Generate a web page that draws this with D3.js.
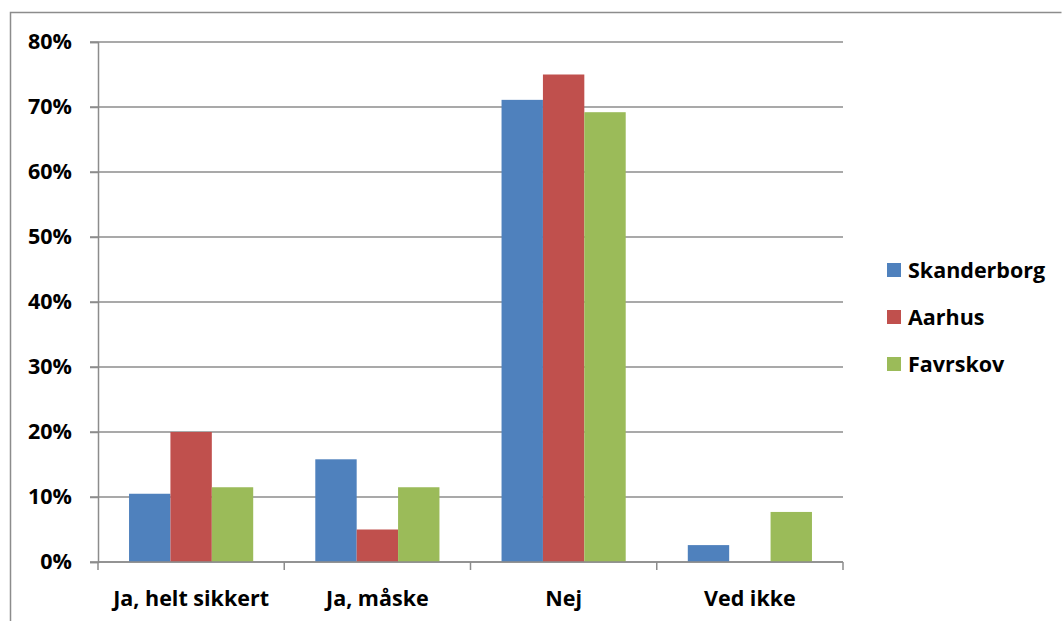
<!DOCTYPE html>
<html>
<head>
<meta charset="utf-8">
<script src="https://cdn.jsdelivr.net/npm/d3@7"></script>
<style>
  body { margin: 0; background: #fff; }
  svg { display: block; font-family: "Open Sans", sans-serif; font-weight: bold; }
</style>
</head>
<body>
<svg width="1062" height="621"></svg>
<script>
var categories = ["Ja, helt sikkert", "Ja, måske", "Nej", "Ved ikke"];
var seriesNames = ["Skanderborg", "Aarhus", "Favrskov"];
var skanderborg = [10.5, 15.8, 71.1, 2.6];
var aarhus = [20, 5, 75, 0];
var favrskov = [11.5, 11.5, 69.2, 7.7];
var yTicks = [0, 10, 20, 30, 40, 50, 60, 70, 80];
var colors = ["#4f81bd", "#c0504d", "#9bbb59"];

var seriesValues = [skanderborg, aarhus, favrskov];

var svg = d3.select("svg"),
width = +svg.attr("width"),
height = +svg.attr("height");

var plotLeft = 98, plotRight = 843, plotTop = 42, plotBottom = 562;
var gridColor = "#8c8c8c";
var fontSize = 21.5;

// outer frame
svg.append("path")
  .attr("d", "M10.5," + height + "V12.5H1061.5")
  .attr("fill", "none")
  .attr("stroke", gridColor)
  .attr("stroke-width", 1.5);

var y = d3.scaleLinear().domain([0, 80]).range([plotBottom, plotTop]);

var x0 = d3.scaleBand()
  .domain(categories)
  .range([plotLeft, plotRight])
  .paddingInner(1 / 3)
  .paddingOuter(1 / 6);

var x1 = d3.scaleBand()
  .domain(seriesNames)
  .range([0, x0.bandwidth()]);

// gridlines
svg.append("g").selectAll("line")
  .data(yTicks)
  .enter().append("line")
  .attr("x1", plotLeft - 8)
  .attr("x2", plotRight)
  .attr("y1", function(d) { return y(d); })
  .attr("y2", function(d) { return y(d); })
  .attr("stroke", gridColor)
  .attr("stroke-width", 1.5);

// y axis
var yAxis = svg.append("g")
  .attr("transform", "translate(" + plotLeft + ",0)")
  .call(d3.axisLeft(y).tickValues(yTicks).tickSize(8).tickPadding(18)
    .tickFormat(function(d) { return d + "%"; }));
yAxis.select(".domain").attr("stroke", gridColor).attr("stroke-width", 1.5);
yAxis.selectAll(".tick line").attr("stroke", gridColor).attr("stroke-width", 1.5);
yAxis.selectAll("text")
  .attr("font-size", fontSize)
  .attr("font-family", "Open Sans")
  .attr("font-weight", "bold")
  .attr("fill", "#000");

// bars
var groups = svg.append("g").selectAll("g")
  .data(categories)
  .enter().append("g")
  .attr("transform", function(d) { return "translate(" + x0(d) + ",0)"; });

groups.selectAll("rect")
  .data(function(d, i) {
    return seriesNames.map(function(s, j) { return {series: s, value: seriesValues[j][i], idx: j}; });
  })
  .enter().append("rect")
  .attr("x", function(d) { return x1(d.series); })
  .attr("width", x1.bandwidth())
  .attr("y", function(d) { return y(d.value); })
  .attr("height", function(d) { return plotBottom - y(d.value); })
  .attr("fill", function(d) { return colors[d.idx]; });

// x axis
var xTickPos = d3.range(categories.length + 1).map(function(i) {
  return plotLeft + i * (plotRight - plotLeft) / categories.length;
});
var xAxis = svg.append("g");
xAxis.append("line")
  .attr("x1", plotLeft).attr("x2", plotRight)
  .attr("y1", plotBottom).attr("y2", plotBottom)
  .attr("stroke", gridColor).attr("stroke-width", 1.5);
xAxis.selectAll(".xt")
  .data(xTickPos)
  .enter().append("line")
  .attr("x1", function(d) { return d; })
  .attr("x2", function(d) { return d; })
  .attr("y1", plotBottom).attr("y2", plotBottom + 8)
  .attr("stroke", gridColor).attr("stroke-width", 1.5);
xAxis.selectAll("text")
  .data(categories)
  .enter().append("text")
  .attr("x", function(d) { return x0(d) + x0.bandwidth() / 2; })
  .attr("y", 606)
  .attr("text-anchor", "middle")
  .attr("font-size", fontSize)
  .text(function(d) { return d; });

// legend
var legend = svg.append("g").selectAll("g")
  .data(seriesNames)
  .enter().append("g")
  .attr("transform", function(d, i) { return "translate(887," + (263 + i * 47) + ")"; });
legend.append("rect")
  .attr("width", 14).attr("height", 14)
  .attr("fill", function(d, i) { return colors[i]; });
legend.append("text")
  .attr("x", 21)
  .attr("y", 7)
  .attr("dy", "0.35em")
  .attr("font-size", fontSize)
  .text(function(d) { return d; });
</script>
</body>
</html>
